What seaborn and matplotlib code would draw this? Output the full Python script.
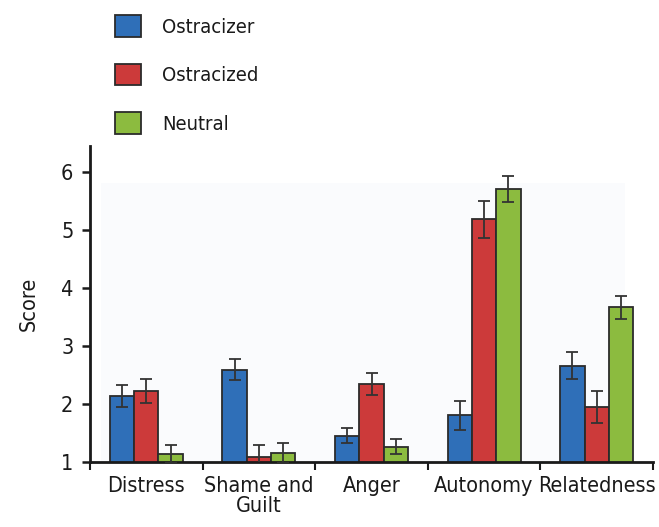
import numpy as np
import pandas as pd
import matplotlib
matplotlib.use("Agg")
import matplotlib.pyplot as plt
import seaborn as sns
from matplotlib import font_manager
from matplotlib.patches import Patch, Rectangle

# data
categories = ["Distress", "Shame and\nGuilt", "Anger", "Autonomy", "Relatedness"]
groups = ["Ostracizer", "Ostracized", "Neutral"]
ostracizer = [2.14, 2.59, 1.45, 1.81, 2.66]
ostracized = [2.22, 1.08, 2.34, 5.19, 1.95]
neutral = [1.14, 1.15, 1.26, 5.71, 3.67]
err_ostracizer = [0.19, 0.18, 0.13, 0.25, 0.23]
err_ostracized = [0.21, 0.22, 0.19, 0.32, 0.28]
err_neutral = [0.16, 0.17, 0.13, 0.22, 0.20]

colors = ["#2f6fb8", "#cc3a3a", "#8cbb3f"]

sns.set_style("white")

# the original uses a condensed sans; take a narrow face if one is installed
fonts = font_manager.fontManager.ttflist
names = set(f.name for f in fonts)
stretch = "normal"
if "Liberation Sans Narrow" in names:
    family, fs = "Liberation Sans Narrow", 17
elif any(f.name == "DejaVu Sans" and str(f.stretch) != "normal" for f in fonts):
    family, fs, stretch = "DejaVu Sans", 15.5, "condensed"
else:
    family, fs = "Liberation Sans", 15
plt.rcParams["font.family"] = [family, "DejaVu Sans"]
plt.rcParams["font.stretch"] = stretch
text_color = "#1a1a1a"

df = pd.DataFrame({
    "category": categories * 3,
    "group": np.repeat(groups, len(categories)),
    "score": ostracizer + ostracized + neutral,
})
errs = [err_ostracizer, err_ostracized, err_neutral]

fig = plt.figure(figsize=(6.59, 5.27), dpi=100)
ax = fig.add_axes([90 / 659, 1 - 462 / 527, 563 / 659, 316 / 527])

# faint panel behind the bars
ax.add_patch(Rectangle((0.02, 0), 0.93, 0.882, transform=ax.transAxes,
                       facecolor="#fafbfd", edgecolor="none", zorder=0))

sns.barplot(data=df, x="category", y="score", hue="group", hue_order=groups,
            palette=colors, saturation=1, width=0.65, edgecolor="#2b2b2b",
            linewidth=1.3, errorbar=None, legend=False, ax=ax, zorder=2)

for cont, e in zip(ax.containers, errs):
    xs = [p.get_x() + p.get_width() / 2 for p in cont.patches]
    hs = [p.get_height() for p in cont.patches]
    ax.errorbar(xs, hs, yerr=e, fmt="none", ecolor="#333333",
                elinewidth=1.3, capsize=4, capthick=1.3, zorder=3)

ax.set_ylim(1, 6.45)
ax.set_xlim(-0.5, 4.5)
ax.set_yticks([1, 2, 3, 4, 5, 6])
ax.set_xlabel("")
ax.set_ylabel("Score", fontsize=fs, labelpad=16, color=text_color)

sns.despine(ax=ax)
for s in ["left", "bottom"]:
    ax.spines[s].set_linewidth(2)
    ax.spines[s].set_color(text_color)

ax.set_xticks(range(len(categories)))
ax.set_xticklabels(categories, fontsize=fs, linespacing=1.0)
ax.set_xticks(np.arange(-0.5, 5, 1), minor=True)
ax.tick_params(axis="x", which="major", length=0, pad=10, colors=text_color)
ax.tick_params(axis="x", which="minor", length=6, width=1.5, direction="out",
               color=text_color, bottom=True)
ax.tick_params(axis="y", length=6, width=1.8, direction="out", left=True,
               labelsize=fs, colors=text_color, pad=6)

handles = [Patch(facecolor=c, edgecolor="#2b2b2b", linewidth=1.3, label=g)
           for c, g in zip(colors, groups)]
fig.legend(handles=handles, loc="upper left",
           bbox_to_anchor=(115 / 659, 1 - 15 / 527), frameon=False,
           fontsize=fs - 1, labelcolor=text_color, handlelength=1.3,
           handleheight=1.3, handletextpad=1.05, labelspacing=1.32,
           borderpad=0, borderaxespad=0)

fig.savefig("out.png", dpi=100)
